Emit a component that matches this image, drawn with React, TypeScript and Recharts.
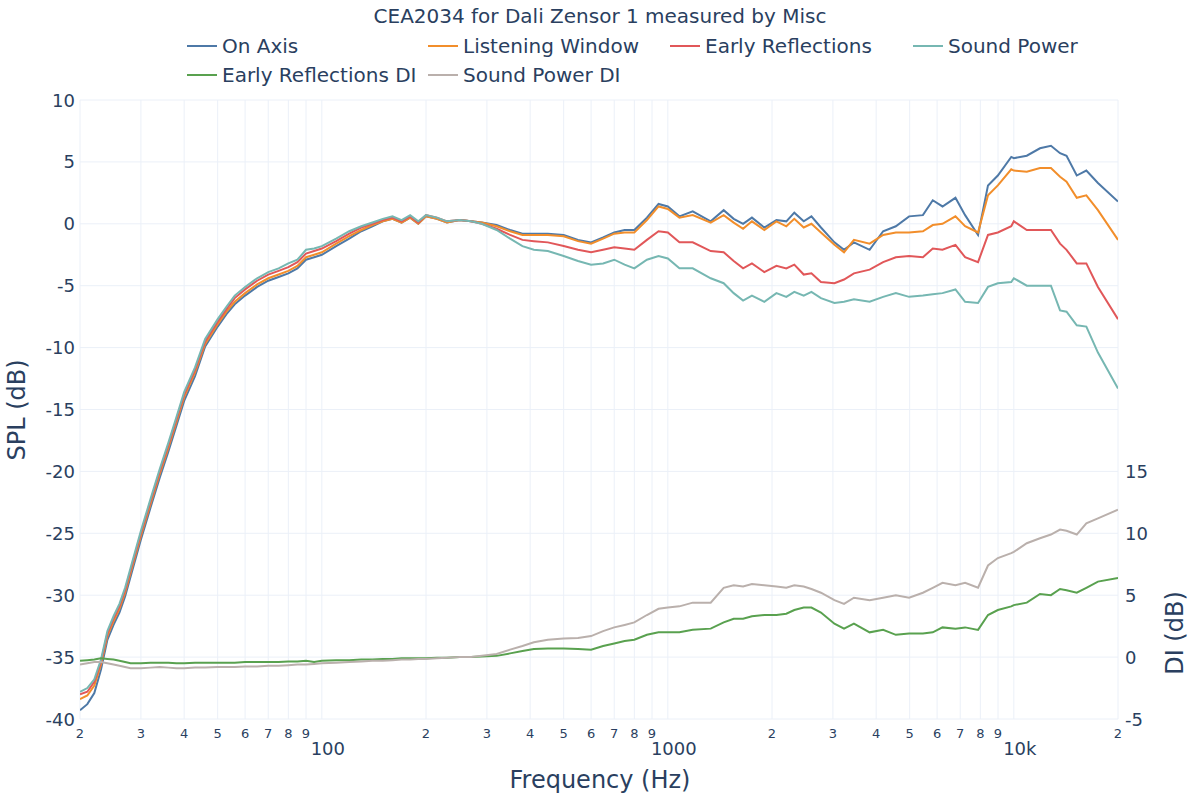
import React from 'react';
import { LineChart, Line, XAxis, YAxis, CartesianGrid } from 'recharts';

const FREQ = [
  20, 21, 22, 23, 24, 25, 26, 27, 28, 30,
  32, 34, 36, 38, 40, 43, 46, 50, 53, 56,
  60, 65, 70, 75, 80, 85, 90, 95, 100, 110,
  120, 130, 140, 150, 160, 170, 180, 190, 200, 215,
  230, 250, 270, 290, 320, 350, 380, 410, 450, 500,
  550, 600, 650, 700, 750, 800, 870, 940, 1000, 1080,
  1180, 1330, 1450, 1550, 1650, 1750, 1900, 2060, 2200, 2320,
  2470, 2600, 2770, 3030, 3230, 3450, 3830, 4190, 4560, 4980,
  5460, 5830, 6220, 6780, 7230, 7880, 8420, 8990, 9830, 10000,
  10900, 11900, 12800, 13600, 14200, 15200, 16200, 17500, 20000,
];

const ON_AXIS = [
  -39.3, -38.8, -37.9, -36.0, -33.6, -32.4, -31.4, -30.1, -28.5, -25.5,
  -22.9, -20.5, -18.4, -16.3, -14.3, -12.3, -9.9, -8.3, -7.3, -6.5,
  -5.8, -5.1, -4.6, -4.3, -4.0, -3.6, -2.9, -2.7, -2.5, -1.8,
  -1.2, -0.6, -0.2, 0.2, 0.4, 0.1, 0.5, 0.0, 0.6, 0.4,
  0.1, 0.3, 0.2, 0.1, -0.1, -0.5, -0.8, -0.8, -0.8, -0.9,
  -1.3, -1.5, -1.1, -0.7, -0.5, -0.5, 0.5, 1.6, 1.4, 0.6,
  1.0, 0.2, 1.1, 0.4, 0.0, 0.5, -0.3, 0.3, 0.2, 0.9,
  0.2, 0.6, -0.3, -1.5, -2.1, -1.5, -2.1, -0.6, -0.2, 0.6,
  0.7, 1.9, 1.4, 2.1, 0.7, -0.9, 3.1, 3.9, 5.4, 5.3,
  5.5, 6.1, 6.3, 5.7, 5.5, 3.9, 4.3, 3.3, 1.8,
];

const LISTENING_WINDOW = [
  -38.4, -38.1, -37.3, -35.6, -33.3, -32.1, -31.1, -29.8, -28.2, -25.2,
  -22.6, -20.2, -18.1, -16.0, -14.0, -12.0, -9.7, -8.1, -7.1, -6.3,
  -5.6, -4.9, -4.4, -4.1, -3.8, -3.4, -2.7, -2.5, -2.3, -1.6,
  -1.0, -0.5, -0.1, 0.2, 0.4, 0.1, 0.5, 0.0, 0.6, 0.4,
  0.1, 0.3, 0.2, 0.1, -0.2, -0.6, -0.9, -0.9, -0.9, -1.0,
  -1.4, -1.6, -1.2, -0.8, -0.7, -0.7, 0.3, 1.4, 1.2, 0.5,
  0.7, 0.1, 0.7, 0.1, -0.4, 0.2, -0.5, 0.2, -0.2, 0.4,
  -0.3, 0.0, -0.7, -1.7, -2.3, -1.3, -1.6, -0.9, -0.7, -0.7,
  -0.6, -0.1, 0.0, 0.6, -0.2, -0.7, 2.3, 3.1, 4.4, 4.3,
  4.2, 4.5, 4.5, 3.8, 3.4, 2.1, 2.3, 1.1, -1.3,
];

const EARLY_REFLECTIONS = [
  -38.0, -37.8, -37.0, -35.4, -33.1, -31.9, -30.9, -29.6, -28.0, -25.0,
  -22.4, -20.0, -17.9, -15.8, -13.8, -11.8, -9.5, -7.9, -6.9, -6.0,
  -5.3, -4.6, -4.1, -3.8, -3.5, -3.1, -2.4, -2.2, -2.0, -1.4,
  -0.8, -0.3, 0.0, 0.3, 0.5, 0.2, 0.6, 0.1, 0.7, 0.5,
  0.2, 0.3, 0.2, 0.0, -0.4, -0.9, -1.3, -1.4, -1.5, -1.8,
  -2.1, -2.3, -2.1, -1.9, -2.0, -2.1, -1.3, -0.6, -0.7, -1.5,
  -1.5, -2.2, -2.3, -3.0, -3.6, -3.2, -3.9, -3.4, -3.6, -3.3,
  -4.1, -4.0, -4.7, -4.8, -4.5, -4.0, -3.7, -3.1, -2.7, -2.6,
  -2.7, -2.0, -2.1, -1.7, -2.7, -3.1, -0.9, -0.7, -0.2, 0.2,
  -0.5, -0.5, -0.5, -1.6, -2.1, -3.2, -3.2, -5.1, -7.7,
];

const SOUND_POWER = [
  -37.8, -37.5, -36.8, -35.2, -32.9, -31.7, -30.7, -29.4, -27.8, -24.8,
  -22.2, -19.8, -17.7, -15.6, -13.6, -11.6, -9.3, -7.7, -6.7, -5.8,
  -5.1, -4.4, -3.9, -3.6, -3.2, -2.9, -2.1, -2.0, -1.8, -1.2,
  -0.6, -0.2, 0.1, 0.4, 0.6, 0.3, 0.7, 0.2, 0.7, 0.5,
  0.2, 0.3, 0.2, 0.0, -0.5, -1.2, -1.8, -2.1, -2.2, -2.6,
  -3.0, -3.3, -3.2, -2.9, -3.3, -3.6, -2.9, -2.6, -2.8, -3.6,
  -3.6, -4.4, -4.8, -5.6, -6.2, -5.8, -6.3, -5.6, -5.9, -5.5,
  -5.8, -5.5, -6.0, -6.4, -6.3, -6.1, -6.3, -5.9, -5.6, -5.9,
  -5.8, -5.7, -5.6, -5.3, -6.3, -6.4, -5.1, -4.8, -4.7, -4.4,
  -5.0, -5.0, -5.0, -7.0, -7.1, -8.2, -8.3, -10.4, -13.3,
];

const EARLY_REFLECTIONS_DI = [
  -0.3, -0.25, -0.2, -0.1, -0.15, -0.2, -0.3, -0.4, -0.5, -0.5,
  -0.45, -0.45, -0.45, -0.5, -0.5, -0.45, -0.45, -0.45, -0.45, -0.45,
  -0.4, -0.4, -0.4, -0.4, -0.35, -0.35, -0.3, -0.4, -0.3, -0.25,
  -0.25, -0.2, -0.2, -0.15, -0.15, -0.1, -0.1, -0.1, -0.1, -0.05,
  -0.05, 0.0, 0.0, 0.05, 0.1, 0.3, 0.5, 0.65, 0.7, 0.7,
  0.65, 0.6, 0.9, 1.1, 1.3, 1.4, 1.8, 2.0, 2.0, 2.0,
  2.2, 2.3, 2.8, 3.1, 3.1, 3.3, 3.4, 3.4, 3.5, 3.8,
  4.0, 4.0, 3.6, 2.7, 2.3, 2.7, 2.0, 2.2, 1.8, 1.9,
  1.9, 2.0, 2.4, 2.3, 2.4, 2.2, 3.4, 3.8, 4.1, 4.2,
  4.4, 5.1, 5.0, 5.5, 5.4, 5.2, 5.6, 6.1, 6.4,
];

const SOUND_POWER_DI = [
  -0.6, -0.5, -0.4, -0.4, -0.5, -0.6, -0.7, -0.8, -0.9, -0.9,
  -0.85, -0.8, -0.85, -0.9, -0.9, -0.85, -0.85, -0.8, -0.8, -0.8,
  -0.75, -0.75, -0.7, -0.7, -0.65, -0.6, -0.6, -0.55, -0.5, -0.45,
  -0.4, -0.35, -0.3, -0.3, -0.25, -0.2, -0.2, -0.15, -0.15, -0.1,
  -0.05, 0.0, 0.0, 0.1, 0.25, 0.6, 0.9, 1.2, 1.4, 1.5,
  1.55, 1.7, 2.1, 2.4, 2.6, 2.8, 3.4, 3.9, 4.0, 4.1,
  4.4, 4.4, 5.6, 5.8, 5.7, 5.9, 5.8, 5.7, 5.6, 5.8,
  5.7, 5.5, 5.2, 4.6, 4.3, 4.8, 4.6, 4.8, 5.0, 4.8,
  5.2, 5.6, 6.0, 5.8, 6.0, 5.6, 7.4, 8.0, 8.4, 8.5,
  9.2, 9.6, 9.9, 10.3, 10.2, 9.9, 10.8, 11.2, 11.9,
];

const X_TICKS = [
  20, 30, 40, 50, 60, 70, 80, 90, 100,
  200, 300, 400, 500, 600, 700, 800, 900, 1000,
  2000, 3000, 4000, 5000, 6000, 7000, 8000, 9000, 10000, 20000,
];
const X_TICK_LABELS = [
  '2', '3', '4', '5', '6', '7', '8', '9', '100',
  '2', '3', '4', '5', '6', '7', '8', '9', '1000',
  '2', '3', '4', '5', '6', '7', '8', '9', '10k', '2',
];
const SPL_TICKS = [-40, -35, -30, -25, -20, -15, -10, -5, 0, 5, 10];
const DI_TICKS = [-5, 0, 5, 10, 15];

const TITLE = 'CEA2034 for Dali Zensor 1 measured by Misc';
const X_TITLE = 'Frequency (Hz)';
const SPL_TITLE = 'SPL (dB)';
const DI_TITLE = 'DI (dB)';

const SERIES = [
  { key: 'on', name: 'On Axis', color: '#4e79a7', axis: 'spl', values: ON_AXIS },
  { key: 'lw', name: 'Listening Window', color: '#f28e2b', axis: 'spl', values: LISTENING_WINDOW },
  { key: 'er', name: 'Early Reflections', color: '#e15759', axis: 'spl', values: EARLY_REFLECTIONS },
  { key: 'sp', name: 'Sound Power', color: '#76b7b2', axis: 'spl', values: SOUND_POWER },
  { key: 'erdi', name: 'Early Reflections DI', color: '#59a14f', axis: 'di', values: EARLY_REFLECTIONS_DI },
  { key: 'spdi', name: 'Sound Power DI', color: '#bab0ac', axis: 'di', values: SOUND_POWER_DI },
];

const data = FREQ.map((f, i) => {
  const row: Record<string, number> = { f };
  SERIES.forEach((s) => {
    row[s.key] = s.values[i];
  });
  return row;
});

const FONT = '"DejaVu Sans", Verdana, sans-serif';
const TEXT = '#2a3f5f';
const GRID = '#ebf0f8';

const LEGEND_POS = [
  { x: 182, y: 46 },
  { x: 423, y: 46 },
  { x: 665, y: 46 },
  { x: 908, y: 46 },
  { x: 182, y: 75 },
  { x: 423, y: 75 },
];

const XTick = (props: any) => {
  const { x, y, payload } = props;
  const idx = X_TICKS.indexOf(payload.value);
  const label = idx >= 0 ? X_TICK_LABELS[idx] : '';
  const major = label.length > 1;
  return (
    <text
      x={x + (major ? 6 : 0)}
      y={y + (major ? 29 : 14)}
      textAnchor="middle"
      dominantBaseline="central"
      fill={TEXT}
      fontSize={major ? 18 : 13}
      fontFamily={FONT}
    >
      {label}
    </text>
  );
};

const LeftTick = (props: any) => {
  const { x, y, payload } = props;
  return (
    <text x={x} y={y} textAnchor="end" dominantBaseline="central" fill={TEXT} fontSize={18} fontFamily={FONT}>
      {payload.value}
    </text>
  );
};

const RightTick = (props: any) => {
  const { x, y, payload } = props;
  return (
    <text x={x} y={y} textAnchor="start" dominantBaseline="central" fill={TEXT} fontSize={18} fontFamily={FONT}>
      {payload.value}
    </text>
  );
};

export default function App() {
  return (
    <div
      style={{
        position: 'absolute',
        left: 0,
        top: 0,
        width: 1200,
        height: 800,
        background: '#ffffff',
        fontFamily: FONT,
      }}
    >
      <LineChart
        width={1200}
        height={800}
        data={data}
        margin={{ top: 100, right: 0, bottom: 0, left: 0 }}
      >
        <CartesianGrid stroke={GRID} strokeWidth={1} yAxisId="spl" />
        <XAxis
          dataKey="f"
          type="number"
          scale="log"
          domain={[20, 20000]}
          ticks={X_TICKS}
          interval={0}
          height={81}
          tickSize={0}
          tickMargin={0}
          axisLine={false}
          tickLine={false}
          tick={<XTick />}
          allowDataOverflow
        />
        <YAxis
          yAxisId="spl"
          orientation="left"
          domain={[-40, 10]}
          ticks={SPL_TICKS}
          interval={0}
          width={80}
          tickSize={0}
          tickMargin={5}
          axisLine={false}
          tickLine={false}
          tick={<LeftTick />}
          allowDataOverflow
        />
        <YAxis
          yAxisId="di"
          orientation="right"
          domain={[-5, 45]}
          ticks={DI_TICKS}
          interval={0}
          width={82}
          tickSize={0}
          tickMargin={7}
          axisLine={false}
          tickLine={false}
          tick={<RightTick />}
          allowDataOverflow
        />
        {SERIES.map((s) => (
          <Line
            key={s.key}
            yAxisId={s.axis}
            dataKey={s.key}
            name={s.name}
            type="linear"
            stroke={s.color}
            strokeWidth={2}
            dot={false}
            activeDot={false}
            isAnimationActive={false}
          />
        ))}
      </LineChart>
      <svg
        width={1200}
        height={800}
        style={{ position: 'absolute', left: 0, top: 0, pointerEvents: 'none' }}
      >
        <text x={600} y={16} textAnchor="middle" dominantBaseline="central" fill={TEXT} fontSize={20} fontFamily={FONT}>
          {TITLE}
        </text>
        {SERIES.map((s, i) => {
          const p = LEGEND_POS[i];
          return (
            <g key={s.key}>
              <line x1={p.x + 5} x2={p.x + 35} y1={p.y} y2={p.y} stroke={s.color} strokeWidth={2} />
              <text x={p.x + 40} y={p.y} dominantBaseline="central" fill={TEXT} fontSize={20} fontFamily={FONT}>
                {s.name}
              </text>
            </g>
          );
        })}
        <text x={600} y={780} textAnchor="middle" dominantBaseline="central" fill={TEXT} fontSize={24} fontFamily={FONT}>
          {X_TITLE}
        </text>
        <text
          x={17}
          y={410}
          textAnchor="middle"
          dominantBaseline="central"
          fill={TEXT}
          fontSize={24}
          fontFamily={FONT}
          transform="rotate(-90 17 410)"
        >
          {SPL_TITLE}
        </text>
        <text
          x={1175}
          y={633}
          textAnchor="middle"
          dominantBaseline="central"
          fill={TEXT}
          fontSize={24}
          fontFamily={FONT}
          transform="rotate(-90 1175 633)"
        >
          {DI_TITLE}
        </text>
      </svg>
    </div>
  );
}
